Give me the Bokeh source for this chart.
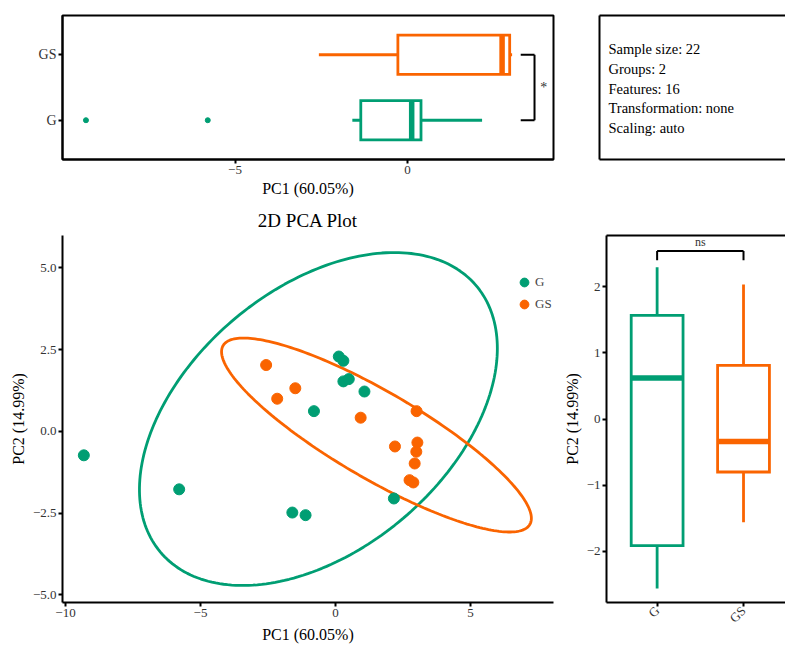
import math
import numpy as np
from bokeh.plotting import figure
from bokeh.models import (Range1d, FixedTicker, LinearAxis, Legend, LegendItem)
from bokeh.layouts import row, column
from bokeh.embed import file_html
from bokeh.resources import INLINE
from bokeh.core.properties import value

# ---------------- data ----------------
groups = ["G", "GS"]
pc1_G = [-9.32, -5.79, -1.60, -1.11, 2.16, -0.80, 0.12, 0.29, 0.29, 0.49, 1.07]
pc2_G = [-0.73, -1.77, -2.48, -2.56, -2.05, 0.62, 2.29, 2.16, 1.53, 1.60, 1.22]
pc1_GS = [-2.57, -2.16, -1.49, 0.93, 3.00, 2.20, 3.03, 2.99, 2.93, 2.74, 2.88]
pc2_GS = [2.03, 1.00, 1.32, 0.42, 0.62, -0.46, -0.34, -0.62, -0.98, -1.49, -1.56]

# 95% ellipses: centre and covariance-like shape
ell_cx = [-0.635, 1.515]
ell_cy = [0.38, -0.11]
ell_sxx = [43.9, 32.9]
ell_syy = [25.9, 8.79]
ell_sxy = [14.3, -14.6]

pca_xticks = [-10, -5, 0, 5]
pca_xtick_labels = ["\u221210", "\u22125", "0", "5"]
pca_yticks = [-5.0, -2.5, 0.0, 2.5, 5.0]
pca_ytick_labels = ["\u22125.0", "\u22122.5", "0.0", "2.5", "5.0"]
top_xticks = [-5, 0]
top_xtick_labels = ["\u22125", "0"]
right_yticks = [-2, -1, 0, 1, 2]
right_ytick_labels = ["\u22122", "\u22121", "0", "1", "2"]

info_lines = ["Sample size: 22", "Groups: 2", "Features: 16",
              "Transformation: none", "Scaling: auto"]
sig_pc1 = "*"
sig_pc2 = "ns"
pc1_label = "PC1 (60.05%)"
pc2_label = "PC2 (14.99%)"
main_title = "2D PCA Plot"

# ---------------- style ----------------
colors = ["#009E73", "#FA6400"]
FONT = "Liberation Serif"
TICK_COLOR = "#333333"

pc1 = [pc1_G, pc1_GS]
pc2 = [pc2_G, pc2_GS]


def box_stats(v):
    v = np.asarray(v, dtype=float)
    q1, med, q3 = np.percentile(v, [25, 50, 75])
    iqr = q3 - q1
    inside = v[(v >= q1 - 1.5 * iqr) & (v <= q3 + 1.5 * iqr)]
    lo, hi = inside.min(), inside.max()
    out = v[(v < lo) | (v > hi)]
    return q1, med, q3, lo, hi, list(out)


def style_fig(p):
    p.xgrid.visible = False
    p.ygrid.visible = False
    p.background_fill_color = "white"
    p.border_fill_color = "white"


def style_axis(ax, ticks, labels, label_size="13px"):
    ax.ticker = FixedTicker(ticks=ticks)
    ax.major_label_overrides = {t: l for t, l in zip(ticks, labels)}
    ax.minor_tick_line_color = None
    ax.major_tick_in = 0
    ax.major_tick_out = 4
    ax.major_tick_line_width = 2
    ax.major_tick_line_color = "black"
    ax.axis_line_width = 2
    ax.axis_line_color = "black"
    ax.major_label_text_font = FONT
    ax.major_label_text_font_size = label_size
    ax.major_label_text_color = TICK_COLOR
    ax.major_label_standoff = 2
    ax.axis_label_text_font = FONT
    ax.axis_label_text_font_size = "16px"
    ax.axis_label_text_font_style = "normal"
    ax.axis_label_text_color = "black"
    ax.axis_label_standoff = 3


def bare_axis():
    return LinearAxis(ticker=FixedTicker(ticks=[]), axis_line_width=2,
                      axis_line_color="black", major_tick_line_color=None,
                      minor_tick_line_color=None,
                      major_label_text_font_size="0px")


LW = 2.8

# ---------------- top: PC1 boxplot (horizontal) ----------------
f1 = figure(width=590, height=199, x_range=Range1d(-10.0, 4.23),
            y_range=Range1d(0.4, 2.6), output_backend="svg",
            toolbar_location=None, min_border_left=62, min_border_right=37,
            min_border_top=15, min_border_bottom=37)
style_fig(f1)
f1.outline_line_color = "black"
f1.outline_line_width = 2
f1.outline_line_alpha = 1
style_axis(f1.xaxis[0], top_xticks, top_xtick_labels)
style_axis(f1.yaxis[0], [1, 2], groups, label_size="14px")
f1.xaxis.axis_label = pc1_label

BH = 0.3
for i, g in enumerate(groups):
    y = i + 1
    q1, med, q3, lo, hi, out = box_stats(pc1[i])
    f1.segment(x0=[lo, q3], y0=[y, y], x1=[q1, hi], y1=[y, y],
               line_color=colors[i], line_width=LW)
    f1.quad(left=[q1], right=[q3], bottom=[y - BH], top=[y + BH],
            fill_color="white", line_color=colors[i], line_width=LW,
            line_join="miter")
    f1.segment(x0=[med], y0=[y - BH], x1=[med], y1=[y + BH],
               line_color=colors[i], line_width=5.5)
    if out:
        f1.scatter(out, [y] * len(out), size=5, color=colors[i])

# significance bracket
f1.segment(x0=[3.28, 3.28, 3.68], y0=[1, 2, 1], x1=[3.68, 3.68, 3.68],
           y1=[1, 2, 2], line_color="black", line_width=2)
f1.text(x=[3.95], y=[1.5], text=[sig_pc1], text_font=value(FONT),
        text_font_size="14px", text_align="center",
        text_baseline="middle", text_color="#333333")

# ---------------- info box ----------------
f2 = figure(width=195, height=199, x_range=Range1d(0, 186),
            y_range=Range1d(147, 0), output_backend="svg",
            toolbar_location=None, min_border_left=9, min_border_right=0,
            min_border_top=15, min_border_bottom=37,
            x_axis_location=None, y_axis_location=None)
style_fig(f2)
f2.outline_line_color = None
f2.add_layout(bare_axis(), "left")
f2.add_layout(bare_axis(), "above")
f2.add_layout(bare_axis(), "below")
f2.text(x=[9] * len(info_lines),
        y=[34.3 + 20.2 * k for k in range(len(info_lines))],
        text=info_lines, text_font=value(FONT), text_font_size="14.5px",
        text_baseline="middle", text_align="left", text_color="black")

# ---------------- main PCA plot ----------------
f3 = figure(width=560, height=447, x_range=Range1d(-10.11, 8.07),
            y_range=Range1d(-5.23, 5.99), output_backend="svg",
            toolbar_location=None, min_border_left=62, min_border_right=7,
            min_border_top=35, min_border_bottom=43, title=main_title)
style_fig(f3)
f3.outline_line_color = None
f3.title.text_font = FONT
f3.title.text_font_size = "19px"
f3.title.text_font_style = "normal"
f3.title.align = "center"
f3.title.text_color = "black"
style_axis(f3.xaxis[0], pca_xticks, pca_xtick_labels)
style_axis(f3.yaxis[0], pca_yticks, pca_ytick_labels)
f3.xaxis.axis_label = pc1_label
f3.yaxis.axis_label = pc2_label
f3.xaxis.axis_label_standoff = 6

t = np.linspace(0, 2 * np.pi, 240)
circ = np.vstack([np.cos(t), np.sin(t)])
items = []
for i, g in enumerate(groups):
    S = np.array([[ell_sxx[i], ell_sxy[i]], [ell_sxy[i], ell_syy[i]]])
    L = np.linalg.cholesky(S)
    pts = L @ circ
    f3.line(ell_cx[i] + pts[0], ell_cy[i] + pts[1], line_color=colors[i],
            line_width=LW)
for i, g in enumerate(groups):
    r = f3.scatter(pc1[i], pc2[i], size=11, color=colors[i])
    items.append(LegendItem(label=g, renderers=[r]))

legend = Legend(items=items, location=(451, 287), border_line_color=None,
                background_fill_alpha=0, padding=0, margin=0, spacing=-4,
                glyph_width=22, glyph_height=22, label_height=18,
                label_standoff=0, label_text_font=FONT,
                label_text_font_size="13px")
f3.add_layout(legend)

# ---------------- right: PC2 boxplot ----------------
f4 = figure(width=225, height=447, x_range=Range1d(-0.586, 1.486),
            y_range=Range1d(-2.77, 2.77), output_backend="svg",
            toolbar_location=None, min_border_left=40, min_border_right=0,
            min_border_top=36, min_border_bottom=44)
style_fig(f4)
f4.outline_line_color = None
style_axis(f4.xaxis[0], [0, 1], groups)
style_axis(f4.yaxis[0], right_yticks, right_ytick_labels)
f4.xaxis.major_label_orientation = math.pi / 4
f4.yaxis.axis_label = pc2_label
f4.add_layout(bare_axis(), "above")

BW = 0.3
for i, g in enumerate(groups):
    x = i
    q1, med, q3, lo, hi, out = box_stats(pc2[i])
    f4.segment(x0=[x, x], y0=[lo, q3], x1=[x, x], y1=[q1, hi],
               line_color=colors[i], line_width=LW)
    f4.quad(left=[x - BW], right=[x + BW], bottom=[q1], top=[q3],
            fill_color="white", line_color=colors[i], line_width=LW,
            line_join="miter")
    f4.segment(x0=[x - BW], y0=[med], x1=[x + BW], y1=[med],
               line_color=colors[i], line_width=5.5)
    if out:
        f4.scatter([x] * len(out), out, size=5, color=colors[i])

f4.segment(x0=[0, 0, 1], y0=[2.535, 2.395, 2.395], x1=[1, 0, 1],
           y1=[2.535, 2.535, 2.535], line_color="black", line_width=2)
f4.text(x=[0.5], y=[2.56], text=[sig_pc2], text_font=value(FONT),
        text_font_size="12px", text_align="center", text_baseline="bottom",
        text_color="#333333")

layout = column(row(f1, f2), row(f3, f4))
open("out.html", "w").write(file_html(layout, INLINE))
